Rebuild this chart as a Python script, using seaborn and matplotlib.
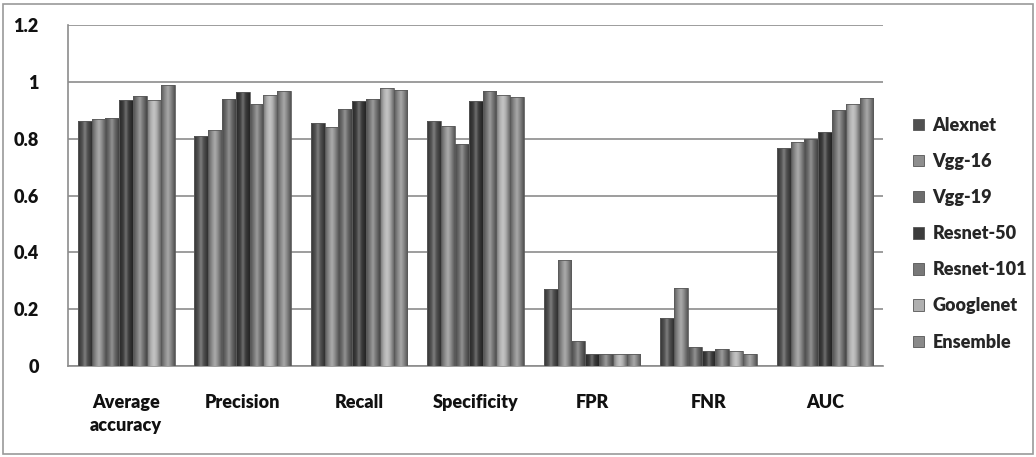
import numpy as np
import pandas as pd
import matplotlib.pyplot as plt
import matplotlib.patches as mpatches
import seaborn as sns

# valores
metrics = ['Average\naccuracy', 'Precision', 'Recall', 'Specificity', 'FPR', 'FNR', 'AUC']
models = ['Alexnet', 'Vgg-16', 'Vgg-19', 'Resnet-50', 'Resnet-101', 'Googlenet', 'Ensemble']

alexnet = [0.864, 0.809, 0.856, 0.864, 0.270, 0.170, 0.766]
vgg16 = [0.868, 0.832, 0.841, 0.845, 0.375, 0.274, 0.788]
vgg19 = [0.873, 0.941, 0.905, 0.783, 0.088, 0.066, 0.798]
resnet50 = [0.938, 0.965, 0.933, 0.933, 0.042, 0.053, 0.825]
resnet101 = [0.951, 0.924, 0.941, 0.968, 0.042, 0.061, 0.900]
googlenet = [0.936, 0.955, 0.977, 0.955, 0.042, 0.053, 0.924]
ensemble = [0.988, 0.968, 0.973, 0.946, 0.042, 0.042, 0.945]

colors = ['#505050', '#8e8e8e', '#6c6c6c', '#3c3c3c', '#787878', '#b0b0b0', '#8a8a8a']

series = [alexnet, vgg16, vgg19, resnet50, resnet101, googlenet, ensemble]
rows = []
for m, vals in zip(models, series):
    for met, v in zip(metrics, vals):
        rows.append({'Metric': met, 'Model': m, 'Value': v})
df = pd.DataFrame(rows)

sns.set_style('white')
plt.rcParams['font.family'] = ['Lato', 'DejaVu Sans']

fig = plt.figure(figsize=(10.36, 4.57), dpi=100)
ax = fig.add_axes([0.0656, 0.199, 0.787, 0.746])

sns.barplot(data=df, x='Metric', y='Value', hue='Model', order=metrics,
            hue_order=models, palette=colors, width=0.83, gap=0,
            edgecolor='#5a5a5a', linewidth=0.6, ax=ax, legend=False, zorder=3)

# sombreado tipo cilindro en cada barra
grad = np.concatenate([np.linspace(-0.35, 0.25, 30), np.linspace(0.25, -0.4, 30)])
for i, m in enumerate(models):
    cont = ax.containers[i]
    c = np.array(plt.matplotlib.colors.to_rgb(colors[i]))
    img = np.zeros((1, len(grad), 3))
    for k, g in enumerate(grad):
        img[0, k] = c + (1 - c) * g if g >= 0 else c * (1 + g)
    for p in cont.patches:
        x0, y0 = p.get_x(), p.get_y()
        w, h = p.get_width(), p.get_height()
        im = ax.imshow(img, extent=(x0, x0 + w, y0, y0 + h), aspect='auto',
                       interpolation='bilinear', zorder=4)
        im.set_clip_path(p)
        p.set_zorder(5)
        p.set_facecolor('none')

ax.set_xlim(-0.5, len(metrics) - 0.5)
ax.set_ylim(0, 1.2)
ax.set_yticks([0, 0.2, 0.4, 0.6, 0.8, 1.0, 1.2])
ax.set_yticklabels(['0', '0.2', '0.4', '0.6', '0.8', '1', '1.2'])
ax.yaxis.grid(True, color='#8c8c8c', linewidth=1.2, zorder=0)
ax.set_axisbelow(True)
ax.set_xlabel('')
ax.set_ylabel('')

for s in ['top', 'right']:
    ax.spines[s].set_visible(False)
for s in ['left', 'bottom']:
    ax.spines[s].set_color('#8c8c8c')
    ax.spines[s].set_linewidth(1.2)

ax.tick_params(axis='y', length=0, pad=21, labelsize=13)
ax.tick_params(axis='x', length=0, pad=20, labelsize=13)
ax.set_xticks(np.arange(len(metrics)) - 0.5, minor=True)
ax.tick_params(axis='x', which='minor', length=5, color='#8c8c8c', width=1.2)
for lab in ax.get_xticklabels() + ax.get_yticklabels():
    lab.set_fontweight('heavy')
    lab.set_color('#111111')
    lab.set_linespacing(1.45)

handles = [mpatches.Patch(facecolor=c, edgecolor='#555555', linewidth=0.6) for c in colors]
leg = fig.legend(handles, models, loc='upper left', bbox_to_anchor=(0.866, 0.78),
                 frameon=False, handlelength=0.6, handleheight=0.6,
                 handletextpad=0.45, labelspacing=1.06,
                 prop={'weight': 'heavy', 'size': 13})

fig.patches.append(mpatches.Rectangle((3 / 1036, 3 / 457), 1030 / 1036, 450 / 457,
                                      transform=fig.transFigure, fill=False,
                                      edgecolor='#9a9a9a', linewidth=1.2))

fig.savefig('out.png', dpi=100)
